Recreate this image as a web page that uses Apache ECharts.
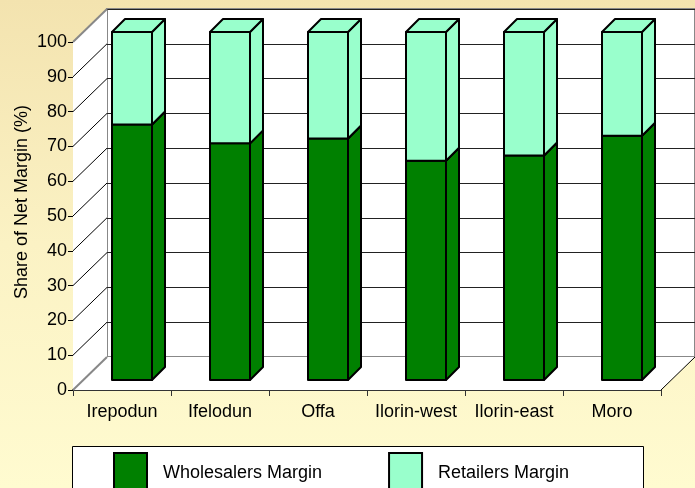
<!DOCTYPE html>
<html>
<head>
<meta charset="utf-8">
<script src="https://cdn.jsdelivr.net/npm/echarts@6/dist/echarts.min.js"></script>
<style>html,body{margin:0;padding:0;background:#fff}#c{width:695px;height:488px}</style>
</head>
<body>
<div id="c"></div>
<script>
const categories = ['Irepodun', 'Ifelodun', 'Offa', 'Ilorin-west', 'Ilorin-east', 'Moro'];
const wholesalers = [73.4, 68.0, 69.4, 63.0, 64.5, 70.2];
const retailers = [26.6, 32.0, 30.6, 37.0, 35.5, 29.8];
const yTicks = [0, 10, 20, 30, 40, 50, 60, 70, 80, 90, 100];
const seriesNames = ['Wholesalers Margin', 'Retailers Margin'];
const colors = ['#008000', '#99FFCC'];

const FONT = 'Arial, "Liberation Sans", sans-serif';
const FS = 18;
const BAR_OFF = 10, BAR_DEPTH = 13, WALL_DX = 34, WALL_DY = 33, BAR_W = 40;

const chart = echarts.init(document.getElementById('c'), null, {renderer: 'canvas'});

function barItem(params, api) {
  const i = api.value(0), lo = api.value(1), hi = api.value(2);
  const pLo = api.coord([i, lo]);
  const pHi = api.coord([i, hi]);
  const cx = pLo[0] + BAR_OFF;
  const y0 = pLo[1] - BAR_OFF;
  const y1 = pHi[1] - BAR_OFF;
  const l = cx - BAR_W / 2, r = cx + BAR_W / 2, d = BAR_DEPTH;
  const st = {fill: api.visual('color'), stroke: '#000', lineWidth: 2, lineJoin: 'round'};
  return {
    type: 'group',
    children: [
      {type: 'polygon', shape: {points: [[r, y1], [r + d, y1 - d], [r + d, y0 - d], [r, y0]]}, style: st},
      {type: 'polygon', shape: {points: [[l, y1], [l + d, y1 - d], [r + d, y1 - d], [r, y1]]}, style: st},
      {type: 'rect', shape: {x: l, y: y1, width: BAR_W, height: y0 - y1}, style: st}
    ]
  };
}

function frameItem(params, api) {
  const cs = params.coordSys;
  const x = cs.x;
  const v = api.value(0);
  const y = api.coord([0, v])[1];
  const children = [];
  if (params.dataIndex === 0) {
    const top = cs.y, bot = cs.y + cs.height, right = cs.x + cs.width;
    children.push({type: 'polygon', shape: {points: [[x, top], [x + WALL_DX, top - WALL_DY], [x + WALL_DX, bot - WALL_DY], [x, bot]]}, style: {fill: '#fff'}});
    children.push({type: 'polygon', shape: {points: [[x, bot], [x + WALL_DX, bot - WALL_DY], [right + WALL_DX, bot - WALL_DY], [right, bot]]}, style: {fill: '#fff'}});
    children.push({type: 'line', shape: {x1: right, y1: bot, x2: right + WALL_DX, y2: bot - WALL_DY}, style: {stroke: '#000', lineWidth: 1}});
  }
  const edge = (v === yTicks[0] || v === yTicks[yTicks.length - 1]);
  children.push({type: 'line', shape: {x1: x, y1: y, x2: x + WALL_DX, y2: y - WALL_DY},
    style: {stroke: edge ? '#888' : '#000', lineWidth: edge ? 2 : 1}});
  return {type: 'group', children: children};
}

const option = {
  animation: false,
  backgroundColor: {type: 'linear', x: 0, y: 0, x2: 0, y2: 1,
    colorStops: [{offset: 0, color: '#F3E3AF'}, {offset: 0.5, color: '#FBF2C4'}, {offset: 1, color: '#FFFBD0'}]},
  textStyle: {fontFamily: FONT},
  grid: [
    {left: 73, right: 34, top: 42, bottom: 98, show: false},
    {left: 107, right: 0, top: 9, bottom: 131, show: true, backgroundColor: '#fff', borderColor: '#888', borderWidth: 2, z: 0}
  ],
  xAxis: [
    {type: 'category', gridIndex: 0, data: categories, boundaryGap: true,
      axisLine: {lineStyle: {color: '#333', width: 2}},
      axisTick: {show: true, length: 6, interval: 0, lineStyle: {color: '#333'}},
      axisLabel: {color: '#000', fontSize: FS, fontFamily: FONT, margin: 13, interval: 0, hideOverlap: false}},
    {type: 'value', gridIndex: 1, show: false, min: 0, max: 1}
  ],
  yAxis: [
    {type: 'value', gridIndex: 0, min: 0, max: 100, interval: 10,
      axisLine: {show: true, lineStyle: {color: '#000', width: 1}},
      axisTick: {show: true, length: 5, lineStyle: {color: '#000'}},
      axisLabel: {color: '#000', fontSize: FS, fontFamily: FONT, margin: 6},
      splitLine: {show: false}},
    {type: 'value', gridIndex: 1, min: 0, max: 100, interval: 10,
      axisLine: {show: false}, axisTick: {show: false}, axisLabel: {show: false},
      splitLine: {show: true, lineStyle: {color: '#222', width: 1}}}
  ],
  legend: {
    left: 113, top: 452, padding: 0, itemWidth: 33, itemHeight: 40, itemGap: 66, z: 5,
    icon: 'rect',
    textStyle: {fontSize: FS, fontFamily: FONT, color: '#000', padding: [0, 0, 18, 11]},
    data: [
      {name: seriesNames[0], itemStyle: {color: colors[0], borderColor: '#000', borderWidth: 2}},
      {name: seriesNames[1], itemStyle: {color: colors[1], borderColor: '#000', borderWidth: 2}}
    ]
  },
  graphic: [
    {type: 'rect', left: 72, top: 446, z: 1, shape: {width: 571, height: 60},
      style: {fill: '#fff', stroke: '#000', lineWidth: 1}},
    {type: 'text', x: 22, y: 202, rotation: Math.PI / 2, z: 3,
      style: {text: 'Share of Net Margin (%)', font: FS + 'px ' + FONT, fill: '#000', align: 'center', verticalAlign: 'middle'}}
  ],
  series: [
    {type: 'custom', name: 'frame', xAxisIndex: 0, yAxisIndex: 0, z: 1, silent: true,
      renderItem: frameItem, data: yTicks.map(v => [v])},
    {type: 'custom', name: seriesNames[0], xAxisIndex: 0, yAxisIndex: 0, z: 2,
      itemStyle: {color: colors[0]}, renderItem: barItem,
      encode: {x: 0, y: 2},
      data: categories.map((c, i) => [i, 0, wholesalers[i]])},
    {type: 'custom', name: seriesNames[1], xAxisIndex: 0, yAxisIndex: 0, z: 3,
      itemStyle: {color: colors[1]}, renderItem: barItem,
      encode: {x: 0, y: 2},
      data: categories.map((c, i) => [i, wholesalers[i], wholesalers[i] + retailers[i]])}
  ]
};
chart.setOption(option);
</script>
</body>
</html>
